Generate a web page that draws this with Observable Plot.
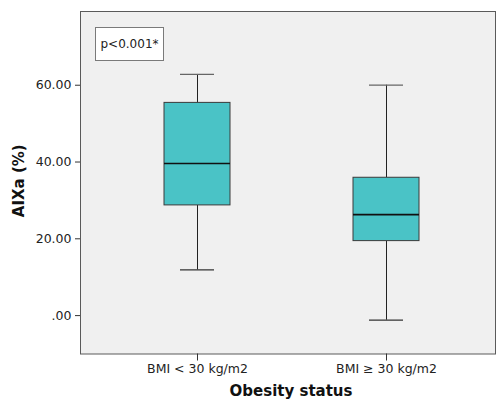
<!DOCTYPE html>
<html>
<head>
<meta charset="utf-8">
<script src="https://cdn.jsdelivr.net/npm/d3@7"></script>
<script src="https://cdn.jsdelivr.net/npm/@observablehq/plot@0.6"></script>
<style>
  html, body { margin: 0; padding: 0; background: #fff; }
  #wrap { position: relative; width: 497px; height: 401px; overflow: hidden; }
  #note {
    position: absolute; left: 95px; top: 27px; width: 67px; height: 32px;
    border: 1px solid #7a7a7a; background: #fff;
    font: 12px "DejaVu Sans", sans-serif; color: #222;
    display: flex; align-items: center; justify-content: center;
  }
</style>
</head>
<body>
<div id="wrap"><div id="note"></div></div>
<script>
const groups = ["BMI < 30 kg/m2", "BMI \u2265 30 kg/m2"];
const whiskerLow = [11.9, -1.2];
const q1 = [28.7, 19.4];
const median = [39.6, 26.3];
const q3 = [55.4, 35.9];
const whiskerHigh = [62.8, 60.0];
const yTicks = [0, 20, 40, 60];
const yTickLabels = [".00", "20.00", "40.00", "60.00"];
const xLabel = "Obesity status";
const yLabel = "AIXa (%)";
const note = "p<0.001*";

const rows = groups.map((g, i) => ({
  group: g, lo: whiskerLow[i], q1: q1[i], med: median[i], q3: q3[i], hi: whiskerHigh[i]
}));

document.getElementById("note").textContent = note;

const chart = Plot.plot({
  width: 497,
  height: 401,
  marginLeft: 80,
  marginRight: 2,
  marginTop: 11,
  marginBottom: 47.5,
  style: { fontFamily: "DejaVu Sans, sans-serif", fontSize: "12px", color: "#222", background: "#fff" },
  x: { type: "band", domain: groups, range: [86, 496], paddingInner: 0.651, paddingOuter: 0.41 },
  y: { domain: [-10, 79.2] },
  marks: [
    Plot.frame({ fill: "#f0f0f0", stroke: "#5a5a5a" }),
    Plot.ruleX(rows, { x: "group", y1: "lo", y2: "q1", stroke: "#222", strokeWidth: 1 }),
    Plot.ruleX(rows, { x: "group", y1: "q3", y2: "hi", stroke: "#222", strokeWidth: 1 }),
    Plot.tickY(rows, { x: "group", y: "lo", stroke: "#333", strokeWidth: 1.2, insetLeft: 16, insetRight: 16 }),
    Plot.tickY(rows, { x: "group", y: "hi", stroke: "#666", strokeWidth: 1.2, insetLeft: 16, insetRight: 16 }),
    Plot.barY(rows, { x: "group", y1: "q1", y2: "q3", fill: "#4ac3c6", stroke: "#3a3a3a", strokeWidth: 1 }),
    Plot.tickY(rows, { x: "group", y: "med", stroke: "#111", strokeWidth: 1.6 }),
    Plot.axisY({ ticks: yTicks, tickFormat: d => yTickLabels[yTicks.indexOf(d)], tickSize: 5, tickPadding: 4, label: null, fontSize: 12.5, stroke: "#333" }),
    Plot.axisX({ tickSize: 7, tickPadding: 3, label: null, fontSize: 12.5, stroke: "#333" }),
    Plot.text([xLabel], { frameAnchor: "bottom", dy: 37.5, dx: 3, fontWeight: "bold", fontSize: 15, fill: "#111", lineAnchor: "middle", textAnchor: "middle" }),
    Plot.text([yLabel], { frameAnchor: "left", dx: -61, dy: -2, rotate: -90, fontWeight: "bold", fontSize: 15, fill: "#111", lineAnchor: "middle", textAnchor: "middle" })
  ]
});
document.getElementById("wrap").prepend(chart);
</script>
</body>
</html>
